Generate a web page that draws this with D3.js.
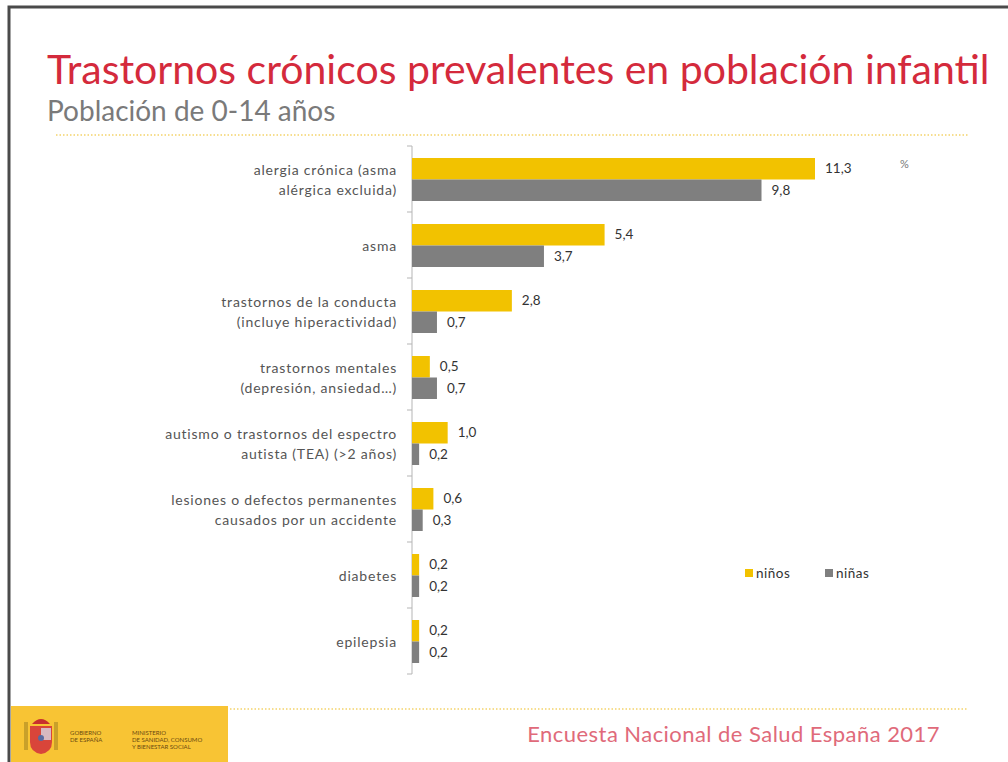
<!DOCTYPE html>
<html>
<head>
<meta charset="utf-8">
<script src="https://cdn.jsdelivr.net/npm/d3@7"></script>
<style>
  html, body { margin: 0; padding: 0; background: #fff; }
  svg { display: block; }
  text { font-family: Lato, "Open Sans", sans-serif; }
</style>
</head>
<body>
<svg id="chart" width="1008" height="762"></svg>
<script>
// Trastornos crónicos por sexo, población 0-14 años (%)
const categories = [
  ["alergia crónica (asma", "alérgica excluida)"],
  ["asma"],
  ["trastornos de la conducta", "(incluye hiperactividad)"],
  ["trastornos mentales", "(depresión, ansiedad…)"],
  ["autismo o trastornos del espectro", "autista (TEA) (>2 años)"],
  ["lesiones o defectos permanentes", "causados por un accidente"],
  ["diabetes"],
  ["epilepsia"]
];
const ninos = [11.3, 5.4, 2.8, 0.5, 1.0, 0.6, 0.2, 0.2];
const ninas = [9.8, 3.7, 0.7, 0.7, 0.2, 0.3, 0.2, 0.2];
const seriesNames = ["niños", "niñas"];
const seriesColors = ["#f2c200", "#7f7f7f"];

const svg = d3.select("#chart");
const locale = d3.formatLocale({ decimal: ",", thousands: ".", grouping: [3], currency: ["", "€"] });
const fmt = locale.format(".1f");

// frame
svg.append("rect").attr("x", 9).attr("y", 7).attr("width", 1100).attr("height", 800)
  .attr("fill", "#fff").attr("stroke", "#4a4a4a").attr("stroke-width", 3);

// title block
svg.append("text").attr("x", 47).attr("y", 84)
  .attr("font-size", 41).attr("fill", "#d42a3c")
  .text("Trastornos crónicos prevalentes en población infantil");
svg.append("text").attr("x", 47).attr("y", 121)
  .attr("font-size", 28).attr("fill", "#7a7a7a")
  .text("Población de 0-14 años");

// dotted separators
svg.append("line").attr("x1", 56).attr("x2", 968).attr("y1", 135).attr("y2", 135)
  .attr("stroke", "#f3d36a").attr("stroke-width", 1.5).attr("stroke-dasharray", "1.5,2");
svg.append("line").attr("x1", 230).attr("x2", 968).attr("y1", 709).attr("y2", 709)
  .attr("stroke", "#f3d36a").attr("stroke-width", 1.5).attr("stroke-dasharray", "1.5,2");

// scales
const idx = d3.range(categories.length);
const y = d3.scaleBand().domain(idx).range([146, 674]).paddingInner(0).paddingOuter(0);
const yInner = d3.scaleBand().domain(seriesNames).range([12, 55]);
const x = d3.scaleLinear().domain([0, 11.3]).range([412, 815]);

// axis line and band ticks
const axis = svg.append("g");
axis.append("line").attr("x1", x(0)).attr("x2", x(0)).attr("y1", 146).attr("y2", 674)
  .attr("stroke", "#b5b5b5").attr("stroke-width", 1);
const edges = idx.map(i => y(i)).concat([y(idx[idx.length - 1]) + y.bandwidth()]);
axis.selectAll(".tk").data(edges).join("line")
  .attr("x1", x(0) - 5).attr("x2", x(0)).attr("y1", d => d).attr("y2", d => d)
  .attr("stroke", "#b5b5b5").attr("stroke-width", 1);

// category labels
const lab = svg.append("g");
idx.forEach(i => {
  const lines = categories[i];
  const cy = y(i) + y.bandwidth() / 2 + 1;
  const lh = 20;
  lines.forEach((t, k) => {
    lab.append("text")
      .attr("x", 397)
      .attr("y", cy + (k - (lines.length - 1) / 2) * lh)
      .attr("dy", "0.35em")
      .attr("text-anchor", "end")
      .attr("font-size", 14)
      .attr("letter-spacing", 0.8)
      .attr("fill", "#555")
      .text(t);
  });
});

// bars
const data = [];
idx.forEach(i => {
  data.push({ i, s: seriesNames[0], v: ninos[i], c: seriesColors[0] });
  data.push({ i, s: seriesNames[1], v: ninas[i], c: seriesColors[1] });
});
const bars = svg.append("g");
bars.selectAll("rect").data(data).join("rect")
  .attr("x", x(0))
  .attr("y", d => y(d.i) + yInner(d.s))
  .attr("width", d => x(d.v) - x(0))
  .attr("height", yInner.bandwidth())
  .attr("fill", d => d.c);
bars.selectAll("text").data(data).join("text")
  .attr("x", d => x(d.v) + 10)
  .attr("y", d => y(d.i) + yInner(d.s) + yInner.bandwidth() / 2)
  .attr("dy", "0.35em")
  .attr("font-size", 13.5)
  .attr("fill", "#333")
  .text(d => fmt(d.v));

// unit
svg.append("text").attr("x", 900).attr("y", 168).attr("font-size", 11).attr("fill", "#777").text("%");

// legend
const leg = svg.append("g").attr("transform", "translate(745,573)");
const legX = [0, 80];
seriesNames.forEach((s, k) => {
  leg.append("rect").attr("x", legX[k]).attr("y", -4).attr("width", 8).attr("height", 8).attr("fill", seriesColors[k]);
  leg.append("text").attr("x", legX[k] + 11).attr("y", 0).attr("dy", "0.35em")
    .attr("font-size", 13.5).attr("letter-spacing", 0.5).attr("fill", "#333").text(s);
});

// footer
svg.append("rect").attr("x", 11).attr("y", 706).attr("width", 217).attr("height", 60).attr("fill", "#f8c434");
const logo = svg.append("g").attr("transform", "translate(20,714)");
logo.append("rect").attr("x", 4).attr("y", 8).attr("width", 4).attr("height", 28).attr("fill", "#c9a02a");
logo.append("rect").attr("x", 34).attr("y", 8).attr("width", 4).attr("height", 28).attr("fill", "#c9a02a");
logo.append("path").attr("d", "M10,12 h22 v16 q0,10 -11,12 q-11,-2 -11,-12 z").attr("fill", "#d9453a");
logo.append("rect").attr("x", 21).attr("y", 14).attr("width", 10).attr("height", 12).attr("fill", "#d8b8c0");
logo.append("circle").attr("cx", 21).attr("cy", 24).attr("r", 3).attr("fill", "#5a6aa0");
logo.append("path").attr("d", "M12,10 q9,-10 18,0 z").attr("fill", "#c8302e");
logo.append("text").attr("x", 50).attr("y", 21).attr("font-size", 6).attr("fill", "#6a4a10").text("GOBIERNO");
logo.append("text").attr("x", 50).attr("y", 28).attr("font-size", 6).attr("fill", "#6a4a10").text("DE ESPAÑA");
logo.append("text").attr("x", 112).attr("y", 21).attr("font-size", 6).attr("fill", "#6a4a10").text("MINISTERIO");
logo.append("text").attr("x", 112).attr("y", 28).attr("font-size", 6).attr("fill", "#6a4a10").text("DE SANIDAD, CONSUMO");
logo.append("text").attr("x", 112).attr("y", 35).attr("font-size", 6).attr("fill", "#6a4a10").text("Y BIENESTAR SOCIAL");

svg.append("text").attr("x", 940).attr("y", 742).attr("text-anchor", "end")
  .attr("font-size", 22).attr("letter-spacing", 0.45).attr("fill", "#e06a7a")
  .text("Encuesta Nacional de Salud España 2017");
</script>
</body>
</html>
